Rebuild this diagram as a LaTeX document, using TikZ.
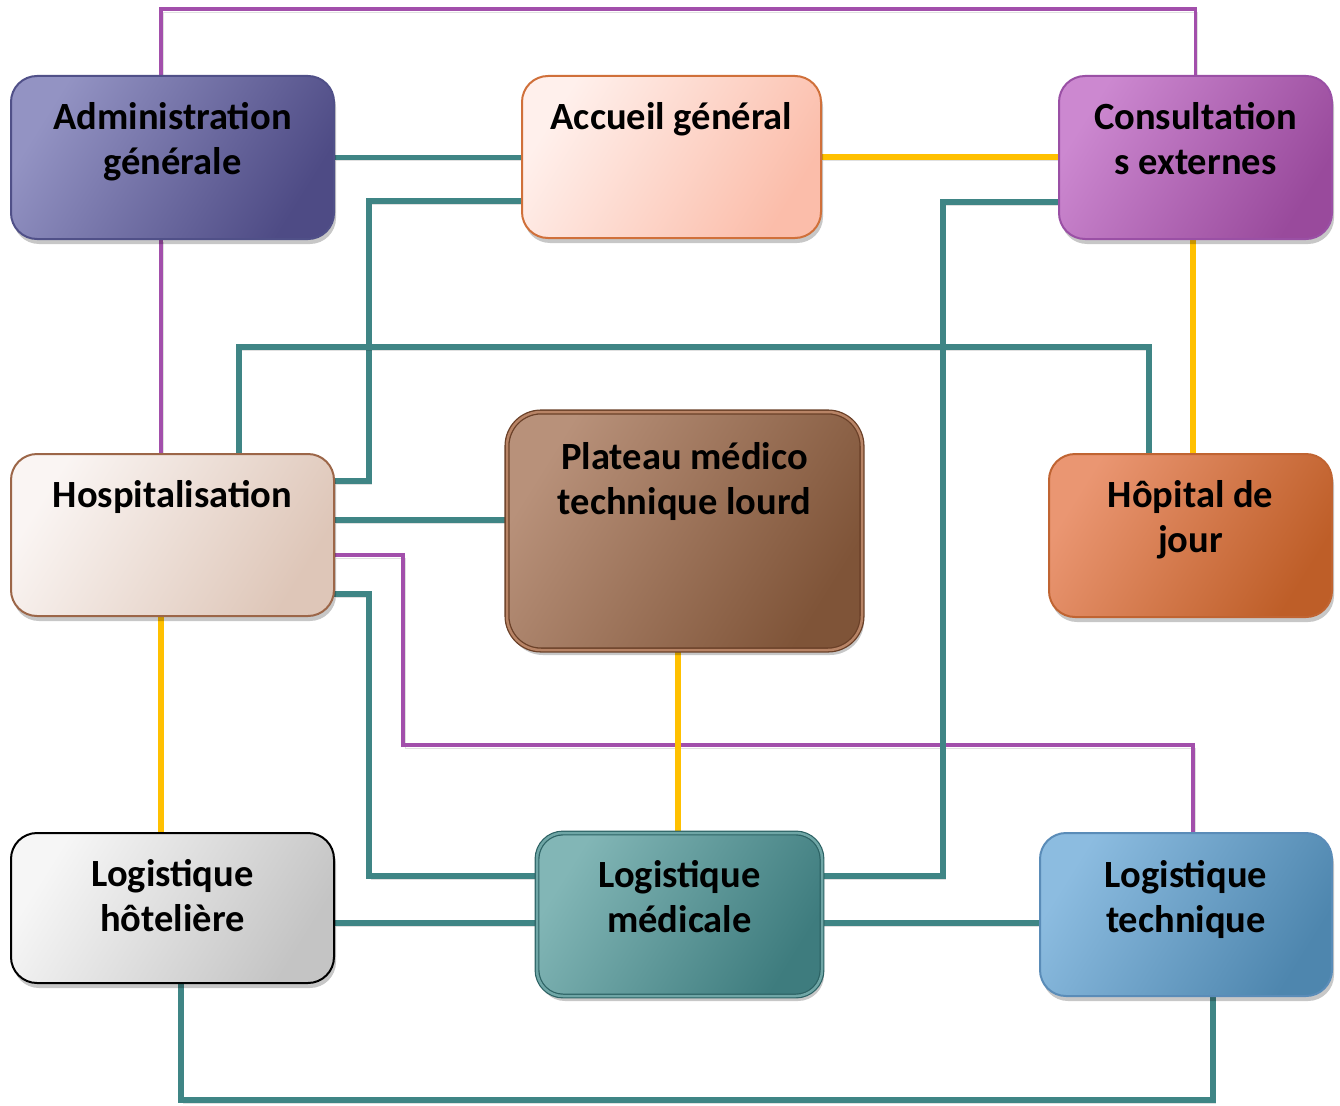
\documentclass[tikz,border=0pt]{standalone}
\usepackage{fontspec}
\setmainfont{Carlito}
\usetikzlibrary{shadows,backgrounds}
\definecolor{pur}{HTML}{A24FAB}
\definecolor{yel}{HTML}{FFC000}
\definecolor{tea}{HTML}{3F8585}
\definecolor{admA}{HTML}{9393C3}\definecolor{admB}{HTML}{4E4B85}\definecolor{admD}{HTML}{505088}
\definecolor{accA}{HTML}{FFF0EC}\definecolor{accB}{HTML}{FBBDAA}\definecolor{accD}{HTML}{D0703A}
\definecolor{conA}{HTML}{CC88D0}\definecolor{conB}{HTML}{994A9C}\definecolor{conD}{HTML}{9A50A5}
\definecolor{hosA}{HTML}{FAF5F3}\definecolor{hosB}{HTML}{DEC6B8}\definecolor{hosD}{HTML}{9C6648}
\definecolor{pltA}{HTML}{B8917A}\definecolor{pltB}{HTML}{7F5438}\definecolor{pltD}{HTML}{6A4028}\definecolor{pltM}{HTML}{B88466}
\definecolor{hdjA}{HTML}{EA9672}\definecolor{hdjB}{HTML}{BE5E28}\definecolor{hdjD}{HTML}{C06432}
\definecolor{lhA}{HTML}{F6F6F6}\definecolor{lhB}{HTML}{C4C4C4}
\definecolor{lmA}{HTML}{82B6B6}\definecolor{lmB}{HTML}{3E7C7E}\definecolor{lmD}{HTML}{2C6264}\definecolor{lmM}{HTML}{6FA6A6}
\definecolor{ltA}{HTML}{8CBCE0}\definecolor{ltB}{HTML}{4E86AE}\definecolor{ltD}{HTML}{5A8CB8}
\newcommand{\boxtxt}[4]{\parbox[c][#2pt][t]{#1pt}{\centering\rule{0pt}{#3pt}#4}}
\tikzset{
  box/.style={rounded corners=26pt, inner sep=0pt, outer sep=0pt, line width=2pt,
    font=\fontsize{38.5}{45}\selectfont\bfseries,
    drop shadow={shadow xshift=2pt, shadow yshift=-5pt, opacity=0.22, fill=black}},
  grad/.style 2 args={left color=#1, right color=#2, shading angle=58},
  lnshadow/.style={preaction={draw=black, opacity=0.12, transform canvas={shift={(2pt,-3pt)}}}},
  purline/.style={draw=pur, line width=3.6pt, lnshadow},
  yelline/.style={draw=yel, line width=6pt, lnshadow},
  tealine/.style={draw=tea, line width=5.6pt, lnshadow}
}
\begin{document}
\begin{tikzpicture}[x=1pt, y=-1pt]
\useasboundingbox (0,0) rectangle (1340,1105);
% boxes
\node[box, grad={admA}{admB}, draw=admD, minimum width=323pt, minimum height=163pt] (adm) at (172.5,157.5) {\boxtxt{323}{163}{53}{Administration\\générale}};
\node[box, grad={accA}{accB}, draw=accD, minimum width=299pt, minimum height=162pt] (acc) at (671.5,157) {\boxtxt{299}{162}{53}{Accueil général}};
\node[box, grad={conA}{conB}, draw=conD, minimum width=273pt, minimum height=163pt] (con) at (1195.5,157.5) {\boxtxt{273}{163}{53}{Consultation\\s externes}};
\node[box, grad={hosA}{hosB}, draw=hosD, minimum width=323pt, minimum height=162pt] (hos) at (172.5,535) {\boxtxt{323}{162}{53}{Hospitalisation}};
\node[box, rounded corners=34pt, grad={pltA}{pltB}, draw=pltD, line width=1.3pt, double=pltM, double distance=2.5pt, minimum width=355pt, minimum height=238pt] (plt) at (684.5,531) {\boxtxt{355}{238}{57}{Plateau médico\\technique lourd}};
\node[box, grad={hdjA}{hdjB}, draw=hdjD, minimum width=283pt, minimum height=163pt] (hdj) at (1190.5,535.5) {\boxtxt{283}{163}{53}{Hôpital de\\jour}};
\node[box, grad={lhA}{lhB}, draw=black, minimum width=323pt, minimum height=150pt] (lh) at (172.5,908) {\boxtxt{323}{150}{53}{Logistique\\hôtelière}};
\node[box, grad={lmA}{lmB}, draw=lmD, line width=1.2pt, double=lmM, double distance=2.5pt, minimum width=285pt, minimum height=163pt] (lm) at (679.5,914.5) {\boxtxt{285}{163}{54}{Logistique\\médicale}};
\node[box, grad={ltA}{ltB}, draw=ltD, minimum width=292pt, minimum height=163pt] (lt) at (1186,914.5) {\boxtxt{292}{163}{54}{Logistique\\technique}};
% track coordinates
\coordinate (p1) at (161,9);
\coordinate (p2) at (403,555);
\coordinate (p3) at (1193,745);
\coordinate (y6) at (678,700);
\coordinate (t1) at (369,201);
\coordinate (t2) at (369,481);
\coordinate (t3) at (239,347);
\coordinate (t4) at (1149,347);
\coordinate (t5) at (420,520);
\coordinate (t6) at (369,594);
\coordinate (t8) at (600,876);
\coordinate (t9) at (943,202);
\coordinate (t10) at (600,923);
\coordinate (t11) at (181,1100);
\coordinate (t12) at (1213,1100);
\begin{pgfonlayer}{background}
% purple lines
\draw[purline] (adm.north -| p1) -- (p1) -| (con.north);
\draw[purline] (adm.south -| p1) -- (hos.north -| p1);
\draw[purline] (hos.east |- p2) -- (p2) |- (p3) -- (lt.north -| p3);
% yellow lines
\draw[yelline] (acc.east) -- (con.west |- acc.east);
\draw[yelline] (con.south -| p3) -- (hdj.north -| p3);
\draw[yelline] (hos.south -| p1) -- (lh.north -| p1);
\draw[yelline] (plt.south -| y6) -- (lm.north -| y6);
% teal lines
\draw[tealine] (adm.east) -- (acc.west |- adm.east);
\draw[tealine] (acc.west |- t1) -- (t1) |- (hos.east |- t2);
\draw[tealine] (hos.north -| t3) |- (t4) -- (hdj.north -| t4);
\draw[tealine] (hos.east |- t5) -- (plt.west |- t5);
\draw[tealine] (hos.east |- t6) -- (t6) |- (lm.west |- t8);
\draw[tealine] (con.west |- t9) -- (t9) |- (lm.east |- t8);
\draw[tealine] (lh.east |- t10) -- (lm.west |- t10);
\draw[tealine] (lm.east |- t10) -- (lt.west |- t10);
\draw[tealine] (lh.south -| t11) |- (t12) -- (lt.south -| t12);
\end{pgfonlayer}
\end{tikzpicture}
\end{document}
